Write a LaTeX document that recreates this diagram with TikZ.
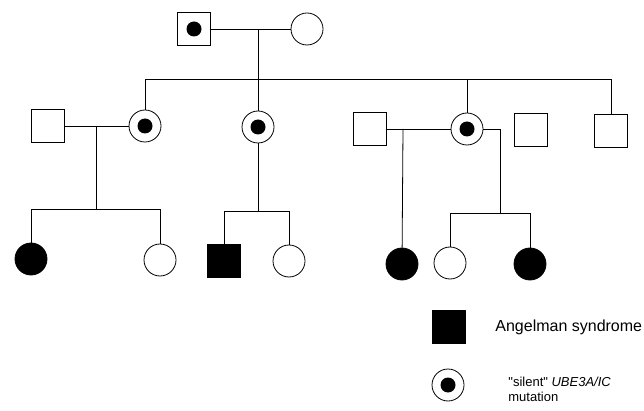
\documentclass[tikz,border=0pt]{standalone}
\usepackage{fontspec}
\setmainfont{Liberation Sans}[Ligatures=TeXOff]

\tikzset{
  male/.style={draw, line width=0.8pt, minimum size=33pt, inner sep=0pt},
  female/.style={draw, circle, line width=0.8pt, minimum size=32pt, inner sep=0pt},
  carrier/.style={path picture={\fill (path picture bounding box.center) circle (7.5pt);}},
  affected/.style={fill=black},
}

\begin{document}
\begin{tikzpicture}[x=1pt, y=-1pt, line width=0.8pt]
    \useasboundingbox (0,0) rectangle (644,411);
    \node[male, carrier] (I1) at (194,29) {};
    \node[female] (I2) at (307,29) {};
    \node[male] (II1) at (48,126) {};
    \node[female, carrier] (II2) at (145,126) {};
    \node[female, carrier] (II3) at (258,127) {};
    \node[male] (II4) at (370,129) {};
    \node[female, carrier] (II5) at (467,129) {};
    \node[male] (II6) at (531,130) {};
    \node[male] (II7) at (611,131) {};
    \node[female, affected] (III1) at (31,259) {};
    \node[female] (III2) at (160,260) {};
    \node[male, affected] (III3) at (224,261) {};
    \node[female] (III4) at (289,261) {};
    \node[female, affected] (III5) at (402,264) {};
    \node[female] (III6) at (450,263) {};
    \node[female, affected] (III7) at (530,264) {};
    \coordinate (mI) at (258,29);
    \coordinate (sibL) at (145,79);
    \coordinate (sibR) at (611,79);
    \coordinate (mA) at (96,126);
    \coordinate (sA) at (96,209);
    \coordinate (sB) at (258,211);
    \coordinate (mC) at (403,129);
    \coordinate (sD) at (500,213);
    \draw (I1) -- (I2);
    \draw (mI) -- (II3);
    \draw (II2) -- (sibL) -- (sibR) -- (II7);
    \draw (II5) -- (II5 |- sibL);
    \draw (II1) -- (II2);
    \draw (mA) -- (sA);
    \draw (III1) |- (sA);
    \draw (III2) |- (sA);
    \draw (II3) -- (sB);
    \draw (III3) |- (sB);
    \draw (III4) |- (sB);
    \draw (II4) -- (II5);
    \draw (mC) -- (III5);
    \draw (II5) -| (sD);
    \draw (III6) |- (sD);
    \draw (III7) |- (sD);
    \node[male, affected] (keyAS) at (449,327) {};
    \node[anchor=base west, inner sep=0pt, font=\fontsize{16}{19}\selectfont] (keyAStext) at (495,331) {Angelman syndrome};
    \node[female, carrier] (keyUBE) at (448,385) {};
    \node[anchor=north west, inner sep=0pt, align=left, font=\fontsize{13}{15}\selectfont] (keyUBEtext) at (508,377) {"silent" \textit{UBE3A/IC}\\mutation};
\end{tikzpicture}
\end{document}
